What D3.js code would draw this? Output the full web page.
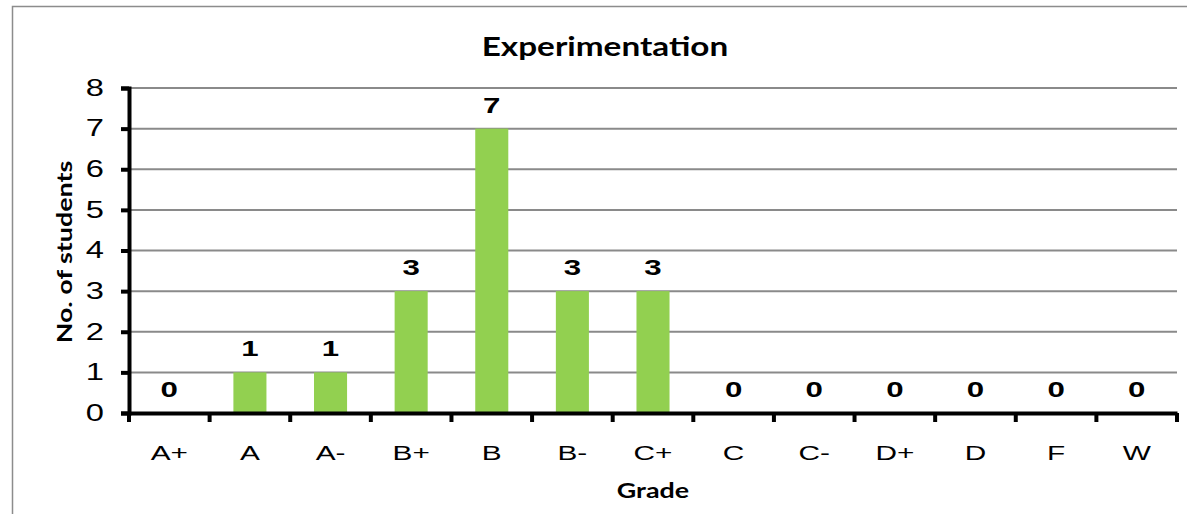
<!DOCTYPE html>
<html>
<head>
<meta charset="utf-8">
<script src="https://cdn.jsdelivr.net/npm/d3@7"></script>
<style>
  body { margin: 0; background: #fff; }
  svg { display: block; }
</style>
</head>
<body>
<div id="chart"></div>
<script>
// chart data
const grades = ["A+", "A", "A-", "B+", "B", "B-", "C+", "C", "C-", "D+", "D", "F", "W"]
const students = [0, 1, 1, 3, 7, 3, 3, 0, 0, 0, 0, 0, 0]
const yTicks = [0, 1, 2, 3, 4, 5, 6, 7, 8]

const width = 1187
const height = 514
const margin = {top: 88, right: 10, bottom: 101, left: 129}
// the original picture is stretched sideways, so text gets widened too
const arialStretch = 1.42
const titleStretch = 1.28

const svg = d3.select("#chart").append("svg")
  .attr("width", width)
  .attr("height", height)

// widen text horizontally around its own x position
function stretch(sel, sx) {
  sel.each(function () {
    const t = d3.select(this)
    const x0 = +t.attr("x") || 0
    t.attr("x", x0 / sx).attr("transform", `scale(${sx},1)`)
  })
}

// chart frame
svg.append("rect")
  .attr("x", 12.5).attr("y", 6.5)
  .attr("width", width + 20).attr("height", height + 20)
  .attr("fill", "none")
  .attr("stroke", "#8c8c8c")
  .attr("stroke-width", 1.5)

const x = d3.scaleBand()
  .domain(grades)
  .range([margin.left, width - margin.right])

const y = d3.scaleLinear()
  .domain([0, 8])
  .range([height - margin.bottom, margin.top])

// gridlines
svg.append("g")
  .selectAll("line")
  .data(yTicks.slice(1))
  .join("line")
  .attr("x1", margin.left).attr("x2", width - margin.right)
  .attr("y1", d => y(d)).attr("y2", d => y(d))
  .attr("stroke", "#8a8a8a")
  .attr("stroke-width", 2)

// bars
const barW = x.bandwidth() * 0.41
svg.append("g")
  .selectAll("rect")
  .data(grades)
  .join("rect")
  .attr("x", d => x(d) + (x.bandwidth() - barW) / 2)
  .attr("y", (d, i) => y(students[i]))
  .attr("width", barW)
  .attr("height", (d, i) => y(0) - y(students[i]))
  .attr("fill", "#92d050")

// value labels
const labels = svg.append("g")
  .selectAll("text")
  .data(grades)
  .join("text")
  .attr("x", d => x(d) + x.bandwidth() / 2)
  .attr("y", (d, i) => y(students[i]) - 16)
  .attr("text-anchor", "middle")
  .attr("font-family", "Liberation Sans, Arial, sans-serif")
  .attr("font-weight", "bold")
  .attr("font-size", 22)
  .text((d, i) => students[i])
stretch(labels, arialStretch)

// y axis
const yAxis = svg.append("g")
  .attr("transform", `translate(${margin.left},0)`)
  .call(d3.axisLeft(y).tickValues(yTicks).tickSize(8).tickPadding(17))
yAxis.select(".domain").attr("stroke-width", 4)
yAxis.selectAll(".tick line").attr("stroke-width", 4)
yAxis.selectAll(".tick text")
  .attr("font-family", "Liberation Sans, Arial, sans-serif")
  .attr("font-size", 23)
  .attr("fill", "#000")
  .call(stretch, arialStretch)

// x axis, ticks sit on the band edges
const xAxis = svg.append("g")
  .attr("transform", `translate(0,${y(0)})`)
  .call(d3.axisBottom(x).tickSize(0).tickPadding(32))
xAxis.select(".domain").attr("stroke-width", 4)
xAxis.selectAll(".tick text")
  .attr("font-family", "Liberation Sans, Arial, sans-serif")
  .attr("font-size", 21)
  .attr("fill", "#000")
  .call(stretch, arialStretch)
xAxis.append("g")
  .selectAll("line")
  .data(grades.concat(["end"]))
  .join("line")
  .attr("x1", (d, i) => margin.left + i * x.step())
  .attr("x2", (d, i) => margin.left + i * x.step())
  .attr("y1", 0).attr("y2", 9)
  .attr("stroke", "#000")
  .attr("stroke-width", 4)

// titles
svg.append("text")
  .attr("x", 605)
  .attr("y", 56)
  .attr("text-anchor", "middle")
  .attr("font-family", "Lato, Open Sans, sans-serif")
  .attr("font-weight", "bold")
  .attr("font-size", 26)
  .text("Experimentation")
  .call(stretch, titleStretch)

svg.append("text")
  .attr("x", (margin.left + width - margin.right) / 2)
  .attr("y", 498)
  .attr("text-anchor", "middle")
  .attr("font-family", "Lato, Open Sans, sans-serif")
  .attr("font-weight", "bold")
  .attr("font-size", 21)
  .text("Grade")
  .call(stretch, titleStretch)

svg.append("text")
  .attr("transform", `translate(72,252) rotate(-90) scale(${titleStretch},1)`)
  .attr("text-anchor", "middle")
  .attr("font-family", "Lato, Open Sans, sans-serif")
  .attr("font-weight", "bold")
  .attr("font-size", 21)
  .text("No. of students")
</script>
</body>
</html>
